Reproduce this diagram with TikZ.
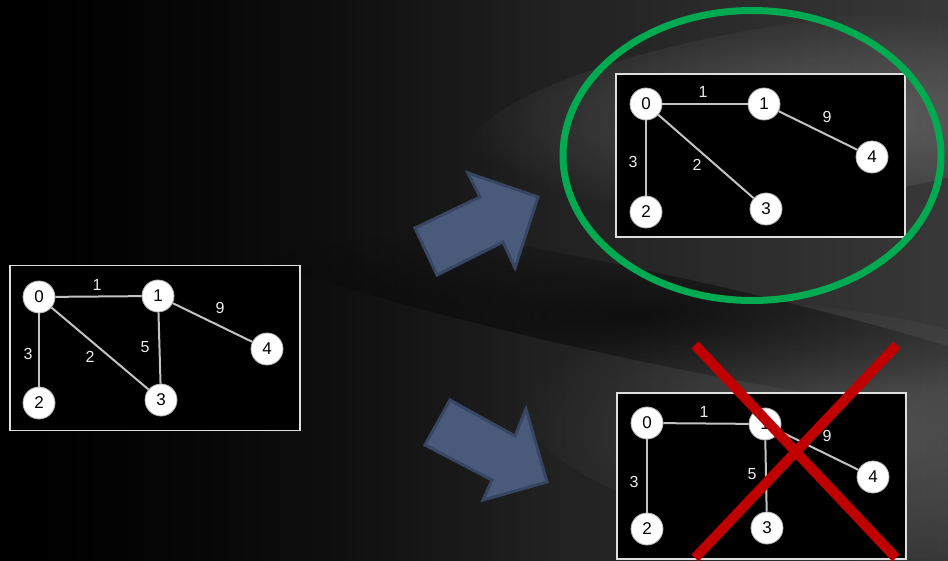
\documentclass[tikz,border=0pt]{standalone}
\usepackage{fontspec}
\setmainfont{Liberation Sans}
\usetikzlibrary{fadings}
\tikzfading[name=softglow, inner color=transparent!0, outer color=transparent!100]
\definecolor{edgegray}{RGB}{195,195,195}
\definecolor{arrowfill}{RGB}{74,90,122}
\definecolor{arrowline}{RGB}{55,70,98}
\definecolor{okgreen}{RGB}{0,170,80}
\definecolor{nored}{RGB}{192,0,0}
\tikzset{
  vtx/.style={circle, fill=white, draw=gray!60, line width=0.8pt, minimum size=32pt, inner sep=0pt, font=\fontsize{17}{17}\selectfont, text=black},
  wlabel/.style={font=\fontsize{16}{16}\selectfont, text=white!85!gray, inner sep=1pt},
  gedge/.style={draw=edgegray, line width=2pt},
  panel/.style={fill=black, draw=white!75!gray, line width=1.5pt},
  bigarrow/.style={fill=arrowfill, draw=arrowline, line width=3pt, line join=miter},
  glow/.style={path fading=softglow},
}
\begin{document}
\begin{tikzpicture}[x=1pt,y=-1pt]
\useasboundingbox (0,0) rectangle (948,561);
% background
\shade[left color=black, right color=black!78!white] (0,0) rectangle (948,561);
\fill[black, opacity=0.6, path fading=east] (0,0) rectangle (520,561);
\fill[white, opacity=0.22, glow, rotate around={8:(820,110)}] (820,110) ellipse (360 and 90);
\fill[white, opacity=0.14, glow, rotate around={-8:(840,430)}] (840,430) ellipse (330 and 120);
\fill[black, opacity=0.6, glow, rotate around={-12:(640,315)}] (640,315) ellipse (460 and 45);

% ---------- left graph ----------
\node[panel, minimum width=290pt, minimum height=165pt, inner sep=0pt] (Lbox) at (155,348) {};
\node[vtx] (L0) at (39,297) {0};
\node[vtx] (L1) at (158,296) {1};
\node[vtx] (L2) at (39,403) {2};
\node[vtx] (L3) at (161,400) {3};
\node[vtx] (L4) at (267,349) {4};
\draw[gedge] (L0) -- (L1);
\draw[gedge] (L0) -- (L2);
\draw[gedge] (L0) -- (L3);
\draw[gedge] (L1) -- (L3);
\draw[gedge] (L1) -- (L4);
\node[wlabel] (Lw01) at (97,285) {1};
\node[wlabel] (Lw14) at (220,308) {9};
\node[wlabel] (Lw02) at (28,354) {3};
\node[wlabel] (Lw03) at (90,357) {2};
\node[wlabel] (Lw13) at (145,347) {5};

% ---------- arrows ----------
\draw[bigarrow] (415,228) -- (480,197) -- (468,173) -- (538,197) -- (515,268) -- (503,242) -- (437,275) -- cycle;
\draw[bigarrow] (425,445) -- (450,400) -- (515,436) -- (526,409) -- (547,482) -- (483,500) -- (492,480) -- cycle;

% ---------- top right graph ----------
\node[panel, minimum width=289pt, minimum height=163pt, inner sep=0pt] (Tbox) at (760.5,155.5) {};
\node[vtx] (T0) at (646,104) {0};
\node[vtx] (T1) at (764,104) {1};
\node[vtx] (T2) at (646,212) {2};
\node[vtx] (T3) at (766,209) {3};
\node[vtx] (T4) at (872,157) {4};
\draw[gedge] (T0) -- (T1);
\draw[gedge] (T0) -- (T2);
\draw[gedge] (T0) -- (T3);
\draw[gedge] (T1) -- (T4);
\node[wlabel] (Tw01) at (703,92) {1};
\node[wlabel] (Tw14) at (827,117) {9};
\node[wlabel] (Tw02) at (633,162) {3};
\node[wlabel] (Tw03) at (697,165) {2};
\draw[okgreen, line width=7pt] (752,155.5) ellipse (189 and 145);

% ---------- bottom right graph ----------
\node[panel, minimum width=289pt, minimum height=166pt, inner sep=0pt] (Bbox) at (761.5,476) {};
\node[vtx] (B0) at (647,423) {0};
\node[vtx] (B1) at (765,424) {1};
\node[vtx] (B2) at (647,529) {2};
\node[vtx] (B3) at (767,528) {3};
\node[vtx] (B4) at (873,477) {4};
\draw[gedge] (B0) -- (B1);
\draw[gedge] (B0) -- (B2);
\draw[gedge] (B1) -- (B3);
\draw[gedge] (B1) -- (B4);
\node[wlabel] (Bw01) at (704,412) {1};
\node[wlabel] (Bw14) at (827,436) {9};
\node[wlabel] (Bw02) at (634,482) {3};
\node[wlabel] (Bw13) at (752,474) {5};
\coordinate (Xa) at (695,345);
\coordinate (Xb) at (896,558);
\coordinate (Xc) at (897,345);
\coordinate (Xd) at (695,558);
\draw[nored, line width=10pt] (Xa) -- (Xb);
\draw[nored, line width=10pt] (Xc) -- (Xd);
\end{tikzpicture}
\end{document}
